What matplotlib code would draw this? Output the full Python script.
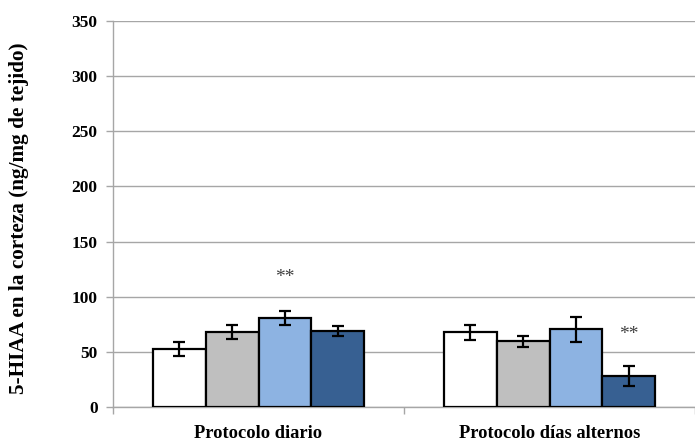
import numpy as np
import matplotlib.pyplot as plt

# 5-HIAA en corteza, dos protocolos, cuatro grupos
protocolos = ["Protocolo diario", "Protocolo días alternos"]
grupo1 = [52.6, 67.7]
grupo2 = [67.7, 59.5]
grupo3 = [81.0, 70.4]
grupo4 = [69.0, 28.0]
err1 = [6.0, 7.0]
err2 = [6.3, 5.0]
err3 = [6.2, 11.3]
err4 = [4.4, 9.0]
# asteriscos de significación: (protocolo, grupo, altura)
signif = [(0, 2, 117), (1, 3, 66)]

colores = ["#ffffff", "#bfbfbf", "#8db3e2", "#376092"]
valores = [grupo1, grupo2, grupo3, grupo4]
errores = [err1, err2, err3, err4]

plt.rcParams['font.family'] = ['Liberation Serif', 'DejaVu Serif']

fig = plt.figure(figsize=(6.95, 4.44), dpi=100)
ax = fig.add_axes([113 / 695, 37 / 444, 582 / 695, 386 / 444])

x = np.arange(len(protocolos))
ancho = 0.182
for i in range(4):
    pos = x + (i - 1.5) * ancho
    ax.bar(pos, valores[i], ancho, color=colores[i], edgecolor="black",
           linewidth=1.6, zorder=3)
    ax.errorbar(pos, valores[i], yerr=errores[i], fmt="none", ecolor="black",
                elinewidth=1.6, capsize=4, capthick=1.6, zorder=4)

for p, g, h in signif:
    ax.text(x[p] + (g - 1.5) * ancho, h, "**", ha="center", va="center",
            fontsize=14, color="#404040")

ax.set_xlim(-0.5, 1.5)
ax.set_ylim(0, 350)
ax.set_yticks(np.arange(0, 351, 50))
ax.set_xticks([-0.5, 0.5, 1.5], minor=False)
ax.set_xticklabels([])
ax.set_xticks(x, minor=True)
ax.set_xticklabels(protocolos, minor=True, fontsize=13.3, fontweight="bold")
ax.tick_params(axis="x", which="minor", length=0, pad=13)
ax.tick_params(axis="x", which="major", length=5, color="#a6a6a6", width=1)
ax.tick_params(axis="y", length=5, color="#a6a6a6", width=1, pad=6)
for lab in ax.get_yticklabels():
    lab.set_fontweight("bold")
    lab.set_fontsize(12.5)

ax.grid(axis="y", color="#a6a6a6", linewidth=1, zorder=0)
for lado in ["top", "right"]:
    ax.spines[lado].set_visible(False)
for lado in ["left", "bottom"]:
    ax.spines[lado].set_color("#a6a6a6")
    ax.spines[lado].set_linewidth(1)

fig.text(19 / 695, 1 - 218 / 444, "5-HIAA en la corteza (ng/mg de tejido)",
         rotation=90, ha="center", va="center", fontsize=15.3, fontweight="bold")

fig.savefig("out.png", dpi=100)
